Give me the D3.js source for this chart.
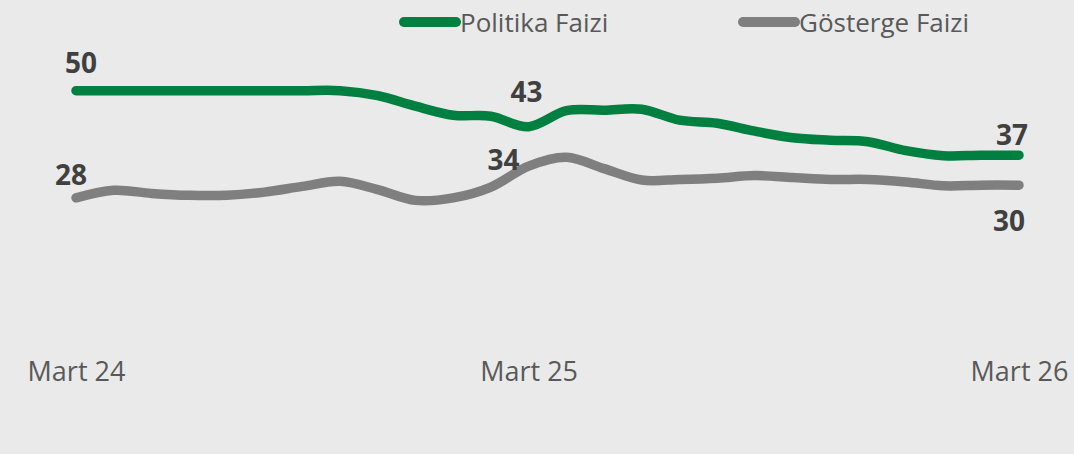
<!DOCTYPE html>
<html>
<head>
<meta charset="utf-8">
<script src="https://cdn.jsdelivr.net/npm/d3@7"></script>
<style>
  html, body { margin: 0; padding: 0; background: #eaeaea; }
  svg { display: block; font-family: "Segoe UI", "Open Sans", "Noto Sans", sans-serif; }
</style>
</head>
<body>
<svg id="chart"></svg>
<script>
/***** Data *****/
var seriesNames = ["Politika Faizi", "Gösterge Faizi"];

// monthly readings, March 2024 onwards
var politikaFaizi = [50, 50, 50, 50, 50, 50, 50, 50.0, 49.0, 46.9, 45.1, 44.9, 42.8,
  46.0, 46.1, 46.3, 44.1, 43.5, 41.9, 40.6, 40.1, 39.8, 38.0, 37.0, 37.1, 37.1];
var gostergeFaizi = [28.0, 29.2, 28.7, 28.4, 28.4, 28.9, 29.8, 30.6, 29.3, 27.6, 28.0, 29.7, 33.0,
  34.4, 32.6, 30.8, 30.9, 31.1, 31.5, 31.2, 30.9, 30.9, 30.5, 29.9, 30.0, 30.0];

var tickIndex = [0, 12, 25];
var tickLabels = ["Mart 24", "Mart 25", "Mart 26"];

// data labels: series, point index, text
var labelSeries = [0, 0, 0, 1, 1, 1];
var labelIndex = [0, 12, 25, 0, 12, 25];
var labelText = ["50", "43", "37", "28", "34", "30"];

(function (d3) {
  "use strict";

  /***** Configuration *****/
  var width = 1074;
  var height = 454;
  var plot = { left: 76, right: 1019, top: 40.7, bottom: 340.7 };
  var colors = ["#008040", "#7f7f7f"];
  var lineWidth = 9.5;
  // offsets of the data labels from their point (dx, dy)
  var labelOffsets = [[5, -18], [-2, -25], [-7, -10], [-5, -13], [-25, 4], [-10, 46]];

  var svg = d3.select("#chart")
    .attr("width", width)
    .attr("height", height);

  svg.append("rect")
    .attr("width", width)
    .attr("height", height)
    .attr("fill", "#eaeaea");

  /***** Scales *****/
  var x = d3.scaleLinear()
    .domain([0, politikaFaizi.length - 1])
    .range([plot.left, plot.right]);
  var y = d3.scaleLinear().domain([0, 60]).range([plot.bottom, plot.top]);
  // Gösterge Faizi sits on a secondary axis
  var y2 = d3.scaleLinear().domain([5.5, 52.75]).range([plot.bottom, plot.top]);

  var series = [
    { name: seriesNames[0], values: politikaFaizi, scale: y, color: colors[0] },
    { name: seriesNames[1], values: gostergeFaizi, scale: y2, color: colors[1] }
  ];

  /***** Axis *****/
  var xAxis = d3.axisBottom(x)
    .tickValues(tickIndex)
    .tickSize(0)
    .tickPadding(0)
    .tickFormat(function (d, i) { return tickLabels[i]; });

  var axisGroup = svg.append("g")
    .attr("transform", "translate(0,362)")
    .call(xAxis)
    .attr("font-family", null)
    .attr("font-size", null);
  axisGroup.select(".domain").remove();
  axisGroup.selectAll("text")
    .attr("dy", "0.71em")
    .attr("fill", "#595959")
    .style("font-size", "27px");

  /***** Lines *****/
  series.forEach(function (s) {
    var line = d3.line()
      .x(function (d, i) { return x(i); })
      .y(function (d) { return s.scale(d); })
      .curve(d3.curveCardinal.tension(0));

    svg.append("path")
      .datum(s.values)
      .attr("d", line)
      .attr("fill", "none")
      .attr("stroke", s.color)
      .attr("stroke-width", lineWidth)
      .attr("stroke-linecap", "round")
      .attr("stroke-linejoin", "round");
  });

  /***** Data labels *****/
  svg.append("g")
    .selectAll("text")
    .data(labelText)
    .enter()
    .append("text")
    .attr("x", function (d, i) { return x(labelIndex[i]) + labelOffsets[i][0]; })
    .attr("y", function (d, i) {
      var s = series[labelSeries[i]];
      return s.scale(s.values[labelIndex[i]]) + labelOffsets[i][1];
    })
    .attr("text-anchor", "middle")
    .attr("fill", "#404040")
    .style("font-size", "28px")
    .style("font-weight", "bold")
    .text(function (d) { return d; });

  /***** Legend *****/
  var legendX = [404, 743];
  var legend = svg.append("g")
    .selectAll("g")
    .data(series)
    .enter()
    .append("g")
    .attr("transform", function (d, i) { return "translate(" + legendX[i] + ",22)"; });

  legend.append("line")
    .attr("x1", 0)
    .attr("x2", 52)
    .attr("stroke", function (d) { return d.color; })
    .attr("stroke-width", 10)
    .attr("stroke-linecap", "round");

  legend.append("text")
    .attr("x", 56)
    .attr("y", 10)
    .attr("fill", "#595959")
    .style("font-size", "26px")
    .text(function (d) { return d.name; });

})(d3);
</script>
</body>
</html>
